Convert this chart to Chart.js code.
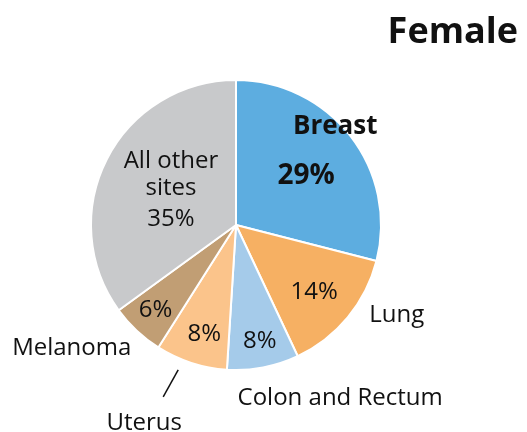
<!DOCTYPE html>
<html>
<head>
<meta charset="utf-8">
<script src="https://cdn.jsdelivr.net/npm/chart.js@4.4.0/dist/chart.umd.min.js"></script>
<style>
  html, body { margin: 0; padding: 0; background: #fff; }
  #wrap { position: relative; width: 527px; height: 432px; }
</style>
</head>
<body>
<div id="wrap"><canvas id="pie" width="527" height="432"></canvas></div>
<script>
// Female cancer sites, share of new cases (%)
const sites = ["Breast", "Lung", "Colon and Rectum", "Uterus", "Melanoma", "All other sites"];
const shares = [29, 14, 8, 8, 6, 35];
const colors = ["#5dade0", "#f6b063", "#a5cbea", "#fbc48b", "#c19e74", "#c8c9cb"];
const heading = "Female";

const FONT = "'Open Sans', 'Noto Sans', sans-serif";
const LIFT = 2; // canvas "middle" sits a touch high for caps and digits

// where each slice's text sits: f = fraction of radius along the slice middle,
// lines = [text, dx, dy, bold]
const inside = [
  { f: 0.7, lines: [["Breast", 19, -38, true], ["{v}%", -10, 11, true]] },
  { f: 0.69, lines: [["{v}%", 1, 1]] },
  { f: 0.8, lines: [["{v}%", 2, 0]] },
  { f: 0.75, lines: [["{v}%", 2, 4]] },
  { f: 0.8, lines: [["{v}%", -1, -1]] },
  { f: 0.55, lines: [["All other", 6, -30], ["sites", 6, -3], ["{v}%", 6, 28]] },
];
// outside names, offset from the rim point at the slice middle
const outside = [
  null,
  { dx: 49, dy: -4 },
  { dx: 77, dy: 29 },
  { dx: -47, dy: 58, leader: [-13, 7, -28, 34] },
  { dx: -65, dy: 15 },
  null,
];

const labelPlugin = {
  id: "sliceLabels",
  afterDatasetsDraw(chart) {
    const ctx = chart.ctx;
    const arcs = chart.getDatasetMeta(0).data;
    ctx.save();
    ctx.fillStyle = "#111";
    ctx.textAlign = "center";
    ctx.textBaseline = "middle";
    arcs.forEach((arc, i) => {
      const p = arc.getProps(["x", "y", "startAngle", "endAngle", "outerRadius"], true);
      const mid = (p.startAngle + p.endAngle) / 2;
      const at = (f) => [p.x + Math.cos(mid) * p.outerRadius * f, p.y + Math.sin(mid) * p.outerRadius * f];

      const spec = inside[i];
      const [ax, ay] = at(spec.f);
      spec.lines.forEach(([txt, dx, dy, bold]) => {
        const big = bold && txt.includes("%");
        ctx.font = (bold ? "bold " : "") + (big ? 28 : bold ? 26 : 24) + "px " + FONT;
        ctx.fillText(txt.replace("{v}", shares[i]), ax + dx, ay + dy + LIFT);
      });

      const out = outside[i];
      if (out) {
        const [rx, ry] = at(1);
        ctx.font = "24px " + FONT;
        ctx.fillText(sites[i], rx + out.dx, ry + out.dy + LIFT);
        if (out.leader) {
          const [x1, y1, x2, y2] = out.leader;
          ctx.strokeStyle = "#111";
          ctx.lineWidth = 1.5;
          ctx.beginPath();
          ctx.moveTo(rx + x1, ry + y1);
          ctx.lineTo(rx + x2, ry + y2);
          ctx.stroke();
        }
      }
    });

    // heading, top right
    ctx.font = "bold 36px " + FONT;
    ctx.textAlign = "right";
    ctx.fillText(heading, chart.width - 9, 33);
    ctx.restore();
  }
};

new Chart(document.getElementById("pie"), {
  type: "pie",
  data: {
    labels: sites,
    datasets: [{
      data: shares,
      backgroundColor: colors,
      borderColor: "#ffffff",
      borderWidth: 2
    }]
  },
  options: {
    responsive: false,
    animation: false,
    layout: { padding: { left: 90, right: 145, top: 79, bottom: 61 } },
    plugins: {
      legend: { display: false },
      tooltip: { enabled: false }
    }
  },
  plugins: [labelPlugin]
});
</script>
</body>
</html>
